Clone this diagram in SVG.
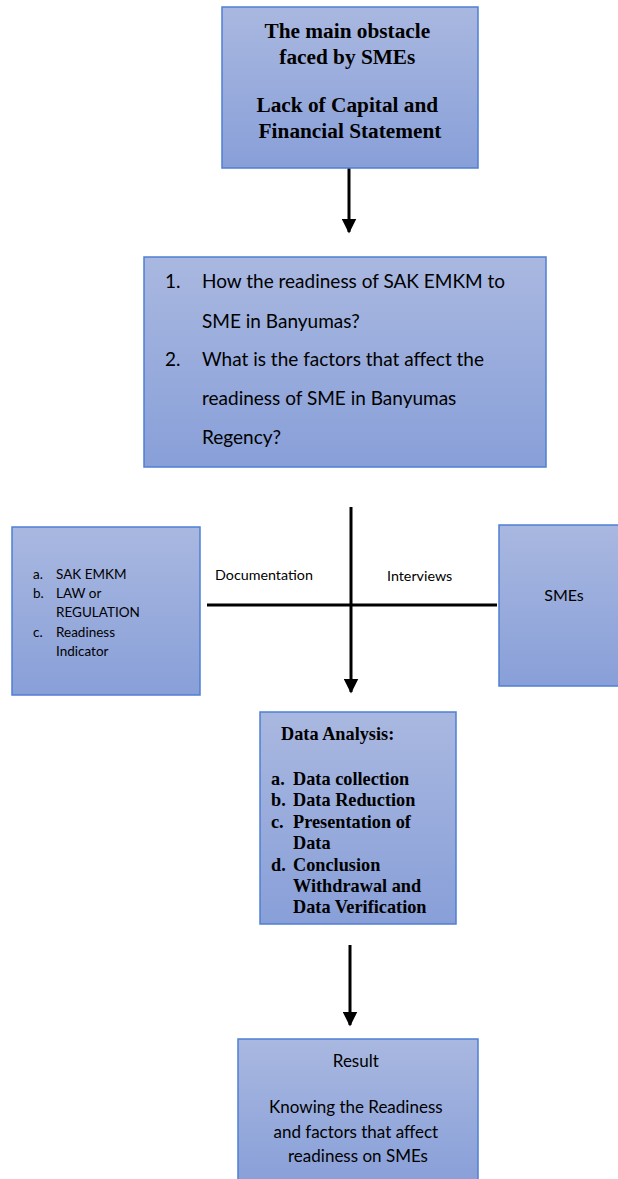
<svg xmlns="http://www.w3.org/2000/svg" width="618" height="1179" viewBox="0 0 618 1179">
<defs>
<linearGradient id="g" x1="0" y1="0" x2="0" y2="1">
<stop offset="0" stop-color="#a9b8e0"/>
<stop offset="1" stop-color="#889fd8"/>
</linearGradient>
<marker id="ah" markerWidth="5" markerHeight="5" refX="4.5" refY="2.5" orient="auto" markerUnits="strokeWidth">
<path d="M0,0 L5,2.5 L0,5 Z" fill="#000"/>
</marker>
<style>
.box{fill:url(#g);stroke:#4f7fd3;stroke-width:1.5}
.serif{font-family:"Liberation Serif","Times New Roman",serif;font-weight:bold;fill:#000}
.sans{font-family:Lato,"Open Sans",sans-serif;fill:#000}
.ln{stroke:#000;stroke-width:3;fill:none}
</style>
</defs>
<rect width="618" height="1179" fill="#fff"/>
<g id="connectors">
<line class="ln" x1="349" y1="168" x2="349" y2="232" marker-end="url(#ah)"/>
<line class="ln" x1="351" y1="507" x2="351" y2="692" marker-end="url(#ah)"/>
<line class="ln" x1="207" y1="605" x2="497" y2="605"/>
<line class="ln" x1="350" y1="945" x2="350" y2="1025" marker-end="url(#ah)"/>
<text class="sans" x="215" y="580" font-size="14.3">Documentation</text>
<text class="sans" x="387" y="581" font-size="14.3">Interviews</text>
</g>
<g id="obstacle">
<rect class="box" x="222" y="7" width="256" height="161"/>
<text class="serif" font-size="21.3" text-anchor="middle">
<tspan x="350" y="38">The main obstacle</tspan>
<tspan x="350" y="64">faced by SMEs</tspan>
<tspan x="350" y="112">Lack of Capital and</tspan>
<tspan x="350" y="138">Financial Statement</tspan>
</text>
</g>
<g id="questions">
<rect class="box" x="144" y="257" width="402" height="210"/>
<text class="sans" font-size="19">
<tspan x="165" y="288">1.</tspan>
<tspan x="202" y="288">How the readiness of SAK EMKM to</tspan>
<tspan x="202" y="328">SME in Banyumas?</tspan>
<tspan x="165" y="366">2.</tspan>
<tspan x="202" y="366">What is the factors that affect the</tspan>
<tspan x="202" y="405">readiness of SME in Banyumas</tspan>
<tspan x="202" y="444">Regency?</tspan>
</text>
</g>
<g id="sources">
<rect class="box" x="12" y="527" width="188" height="168"/>
<text class="sans" font-size="13.5">
<tspan x="33" y="579">a.</tspan>
<tspan x="56" y="579">SAK EMKM</tspan>
<tspan x="33" y="598">b.</tspan>
<tspan x="56" y="598">LAW or</tspan>
<tspan x="56" y="617">REGULATION</tspan>
<tspan x="33" y="637">c.</tspan>
<tspan x="56" y="637">Readiness</tspan>
<tspan x="56" y="656">Indicator</tspan>
</text>
</g>
<g id="smes">
<rect class="box" x="499" y="525" width="125" height="161"/>
<text class="sans" font-size="16" x="564" y="601" text-anchor="middle">SMEs</text>
</g>
<g id="analysis">
<rect class="box" x="260" y="712" width="196" height="212"/>
<text class="serif" font-size="18.3">
<tspan x="281" y="740">Data Analysis:</tspan>
<tspan x="271" y="785">a.</tspan>
<tspan x="293" y="785">Data collection</tspan>
<tspan x="271" y="806">b.</tspan>
<tspan x="293" y="806">Data Reduction</tspan>
<tspan x="271" y="828">c.</tspan>
<tspan x="293" y="828">Presentation of</tspan>
<tspan x="293" y="849">Data</tspan>
<tspan x="271" y="871">d.</tspan>
<tspan x="293" y="871">Conclusion</tspan>
<tspan x="293" y="892">Withdrawal and</tspan>
<tspan x="293" y="913">Data Verification</tspan>
</text>
</g>
<g id="result">
<rect class="box" x="238" y="1039" width="240" height="145"/>
<text class="sans" font-size="17" text-anchor="middle">
<tspan x="358" y="1067">Result</tspan>
<tspan x="358" y="1113">Knowing the Readiness</tspan>
<tspan x="358" y="1138">and factors that affect</tspan>
<tspan x="358" y="1162">readiness on SMEs</tspan>
</text>
</g>
</svg>
